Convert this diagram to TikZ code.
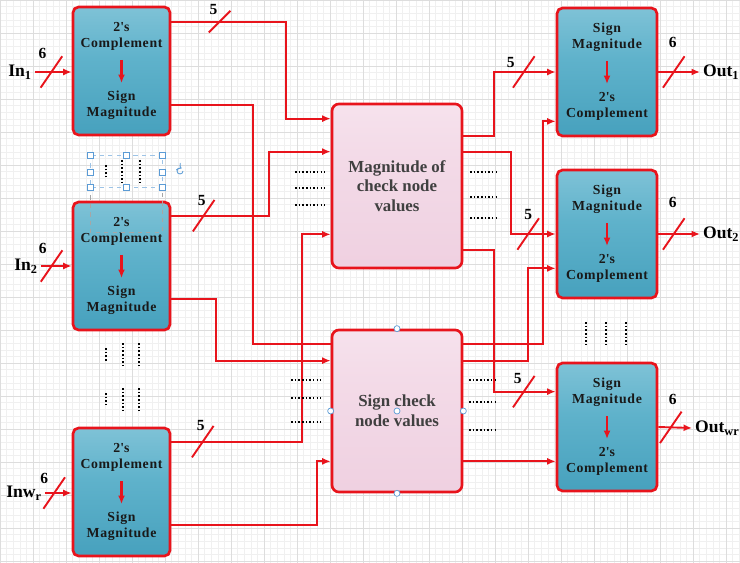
\documentclass[tikz,border=0pt]{standalone}
\usepackage{fontspec}
\setmainfont{Liberation Serif}
\usetikzlibrary{arrows.meta}
\usetikzlibrary{shapes.misc}

\definecolor{wirered}{HTML}{E8141C}
\definecolor{bluetop}{HTML}{D8F0F7}
\definecolor{bluemid}{HTML}{5FB2CB}
\definecolor{bluebot}{HTML}{3A98B6}
\definecolor{pinktop}{HTML}{FBEEF5}
\definecolor{pinkbot}{HTML}{EDCBDD}
\definecolor{gridminor}{HTML}{F0F0F0}
\definecolor{gridmajor}{HTML}{DDDDDD}
\definecolor{handle}{HTML}{5B9BD5}

\pgfdeclareverticalshading{bluegloss}{100bp}{color(0bp)=(bluetop!85!bluebot);
  color(3bp)=(bluetop!45!bluebot); color(9bp)=(bluebot); color(55bp)=(bluemid);
  color(78bp)=(bluemid!70!bluetop); color(92bp)=(bluemid!25!bluetop); color(100bp)=(bluetop)}
\pgfdeclareverticalshading{pinkgloss}{100bp}{color(0bp)=(pinktop);
  color(7bp)=(pinkbot); color(60bp)=(pinkbot!55!pinktop); color(100bp)=(pinktop)}

\tikzset{
  conv/.style={draw=wirered, line width=1.9pt, rounded corners=4pt,
    shade, shading=bluegloss,
    minimum width=2.425cm, minimum height=3.2cm, align=center, text=black!90,
    font=\fontsize{9.8}{11.5}\selectfont\bfseries\addfontfeature{LetterSpace=5}},
  core/.style={draw=wirered, line width=1.9pt, rounded corners=5pt,
    shade, shading=pinkgloss,
    minimum width=3.25cm, align=center, text=black!75,
    font=\fontsize{12}{14}\selectfont\bfseries},
  wire/.style={draw=wirered, line width=1.35pt},
  tip/.style={-{Latex[length=6pt,width=5pt]}},
  bus/.style={strike out, draw=wirered, line width=1.35pt, minimum width=14pt,
    minimum height=21pt, inner sep=0pt},
  num/.style={font=\fontsize{11}{12}\selectfont\bfseries, inner sep=0pt},
  io/.style={font=\fontsize{12.5}{14}\selectfont\bfseries, inner sep=2pt},
  dots/.style={line width=1.3pt, dash pattern=on 1.1pt off 1.5pt},
  knob/.style={draw=handle, fill=white, line width=0.5pt},
}

\begin{document}
\begin{tikzpicture}[x=0.025cm,y=-0.025cm]
\useasboundingbox (0,0) rectangle (740,563);
% graph paper
\draw[gridminor,line width=0.4pt,step=0.165cm] (0,0) grid (740,563);
\draw[gridmajor,line width=0.4pt,step=0.825cm] (0,0) grid (740,563);

% converters on the left
\node[conv] (inA) at (121.5,71) {2\textquotesingle s\\Complement\\[26pt]Sign\\Magnitude};
\node[conv] (inB) at (121.5,266) {2\textquotesingle s\\Complement\\[26pt]Sign\\Magnitude};
\node[conv] (inC) at (121.5,492) {2\textquotesingle s\\Complement\\[26pt]Sign\\Magnitude};
% check node units
\node[core, minimum height=4.1cm] (mag) at (397,186) {Magnitude of\\check node\\values};
\node[core, minimum height=4.05cm] (sgn) at (397,411) {Sign check\\node values};
% converters on the right
\node[conv, minimum width=2.5cm] (outA) at (607,72) {Sign\\Magnitude\\[26pt]2\textquotesingle s\\Complement};
\node[conv, minimum width=2.5cm] (outB) at (607,234) {Sign\\Magnitude\\[26pt]2\textquotesingle s\\Complement};
\node[conv, minimum width=2.5cm] (outC) at (607,427) {Sign\\Magnitude\\[26pt]2\textquotesingle s\\Complement};

% arrows inside the converters
\foreach \b in {inA,inB,inC,outA,outB,outC}
  \draw[wire,tip,line width=1.5pt] ([yshift=0.275cm]\b.center) -- ([yshift=-0.3cm]\b.center);

% inputs and outputs
\node[io] (in1) at (20,72) {In\textsubscript{1}};
\node[io] (in2) at (26,266) {In\textsubscript{2}};
\node[io] (in3) at (24,493) {Inw\textsubscript{r}};
\node[io, anchor=west] (out1) at (700,72) {Out\textsubscript{1}};
\node[io, anchor=west] (out2) at (700,234) {Out\textsubscript{2}};
\node[io, anchor=west] (out3) at (692,428) {Out\textsubscript{wr}};

\draw[wire,tip] (in1.east) -- node[bus,pos=.45,label={[num,xshift=-6.4pt,yshift=13.5pt]center:6}]{} (in1.east -| inA.west);
\draw[wire,tip] (in2.east) -- node[bus,pos=.35,label={[num,xshift=-6.4pt,yshift=12.8pt]center:6}]{} (in2.east -| inB.west);
\draw[wire,tip] (in3.east) -- node[bus,pos=.35,label={[num,xshift=-7.1pt,yshift=10.6pt]center:6}]{} (in3.east -| inC.west);
\draw[wire,tip] (outA.east) -- node[bus,pos=.37,label={[num,xshift=-0.7pt,yshift=21.3pt]center:6}]{} (out1.west);
\draw[wire,tip] (outB.east) -- node[bus,pos=.37,label={[num,xshift=-0.7pt,yshift=22.7pt]center:6}]{} (out2.west);
\draw[wire,tip] (outC.east) -- node[bus,pos=.37,label={[num,xshift=1.4pt,yshift=19.9pt]center:6}]{} (out3.west);

% left converters to the check node units
\draw[wire,tip] ([yshift=-0.4cm]inA.north east) -- node[bus,pos=.42,minimum height=14pt,label={[num,xshift=-4.3pt,yshift=8.5pt]center:5}]{} ++(115,0) |- ([yshift=-0.4cm]mag.north west);
\draw[wire] ([yshift=0.775cm]inA.south east) -- ++(82,0) |- ([yshift=-0.375cm]sgn.north west);
\draw[wire,tip] ([yshift=-0.375cm]inB.north east) -- node[bus,pos=.33,label={[num,xshift=-1.4pt,yshift=10.6pt]center:5}]{} ++(98,0) |- ([yshift=-1.225cm]mag.north west);
\draw[wire,tip] ([yshift=0.8cm]inB.south east) -- ++(45,0) |- ([yshift=-0.8cm]sgn.north west);
\draw[wire,tip] ([yshift=-0.375cm]inC.north east) -- node[bus,pos=.24,label={[num,xshift=-1.4pt,yshift=11.3pt]center:5}]{} ++(131,0) |- ([yshift=0.875cm]mag.south west);
\draw[wire,tip] ([yshift=0.8cm]inC.south east) -- ++(146,0) |- ([yshift=0.8cm]sgn.south west);

% check node units to the right converters
\draw[wire,tip] ([yshift=-0.825cm]mag.north east) -- ++(31,0) |- node[bus,pos=.74,label={[num,xshift=-9.2pt,yshift=7.1pt]center:5}]{} (outA.west);
\draw[wire,tip] ([yshift=-1.225cm]mag.north east) -- ++(48,0) |- node[bus,pos=.69,label={[num,xshift=0pt,yshift=14.2pt]center:5}]{} (outB.west);
\draw[wire,tip] ([yshift=0.475cm]mag.south east) -- ++(31,0) |- node[bus,pos=.74,label={[num,xshift=-4.3pt,yshift=9.2pt]center:5}]{} ([yshift=-0.75cm]outC.north west);
\draw[wire,tip] ([yshift=-0.375cm]sgn.north east) -- ++(80,0) |- ([yshift=0.4cm]outA.south west);
\draw[wire,tip] ([yshift=-0.8cm]sgn.north east) -- ++(65,0) |- ([yshift=0.775cm]outB.south west);
\draw[wire,tip] ([yshift=0.8cm]sgn.south east) -- ([yshift=0.8cm]sgn.south east -| outC.west);

% dotted fillers
\foreach \y in {172,188,205} \draw[dots] (295,\y) -- (325,\y);
\foreach \y in {172,197,218} \draw[dots] (470,\y) -- (498,\y);
\foreach \y in {380,398,422} \draw[dots] (291,\y) -- (321,\y);
\foreach \y in {380,402,430} \draw[dots] (469,\y) -- (498,\y);
\draw[dots] (106,165) -- (106,177);
\foreach \x in {122,140} \draw[dots] (\x,160) -- (\x,184);
\draw[dots] (106,348) -- (106,362);
\foreach \x in {123,139} \draw[dots] (\x,343) -- (\x,366);
\draw[dots] (106,393) -- (106,405);
\foreach \x in {123,139} \draw[dots] (\x,388) -- (\x,411);
\foreach \x in {586,606,626} \draw[dots] (\x,322) -- (\x,344);

% editor selection marks
\draw[handle!60,dashed,line width=0.4pt] (90,155) rectangle (162,187);
\draw[black!35,dashed,line width=0.4pt] (90,187) -- (90,232) -- (162,232) -- (162,187);
\foreach \x/\y in {90/155,126/155,162/155,90/172,162/172,90/187,126/187,162/187}
  \draw[knob] (\x-3,\y-3) rectangle (\x+3,\y+3);
\draw[handle,line width=0.6pt,->] (183,171) arc (0:300:3);
\foreach \a in {north,west,center,east,south}
  \draw[knob] (sgn.\a) circle (3);
\end{tikzpicture}
\end{document}
